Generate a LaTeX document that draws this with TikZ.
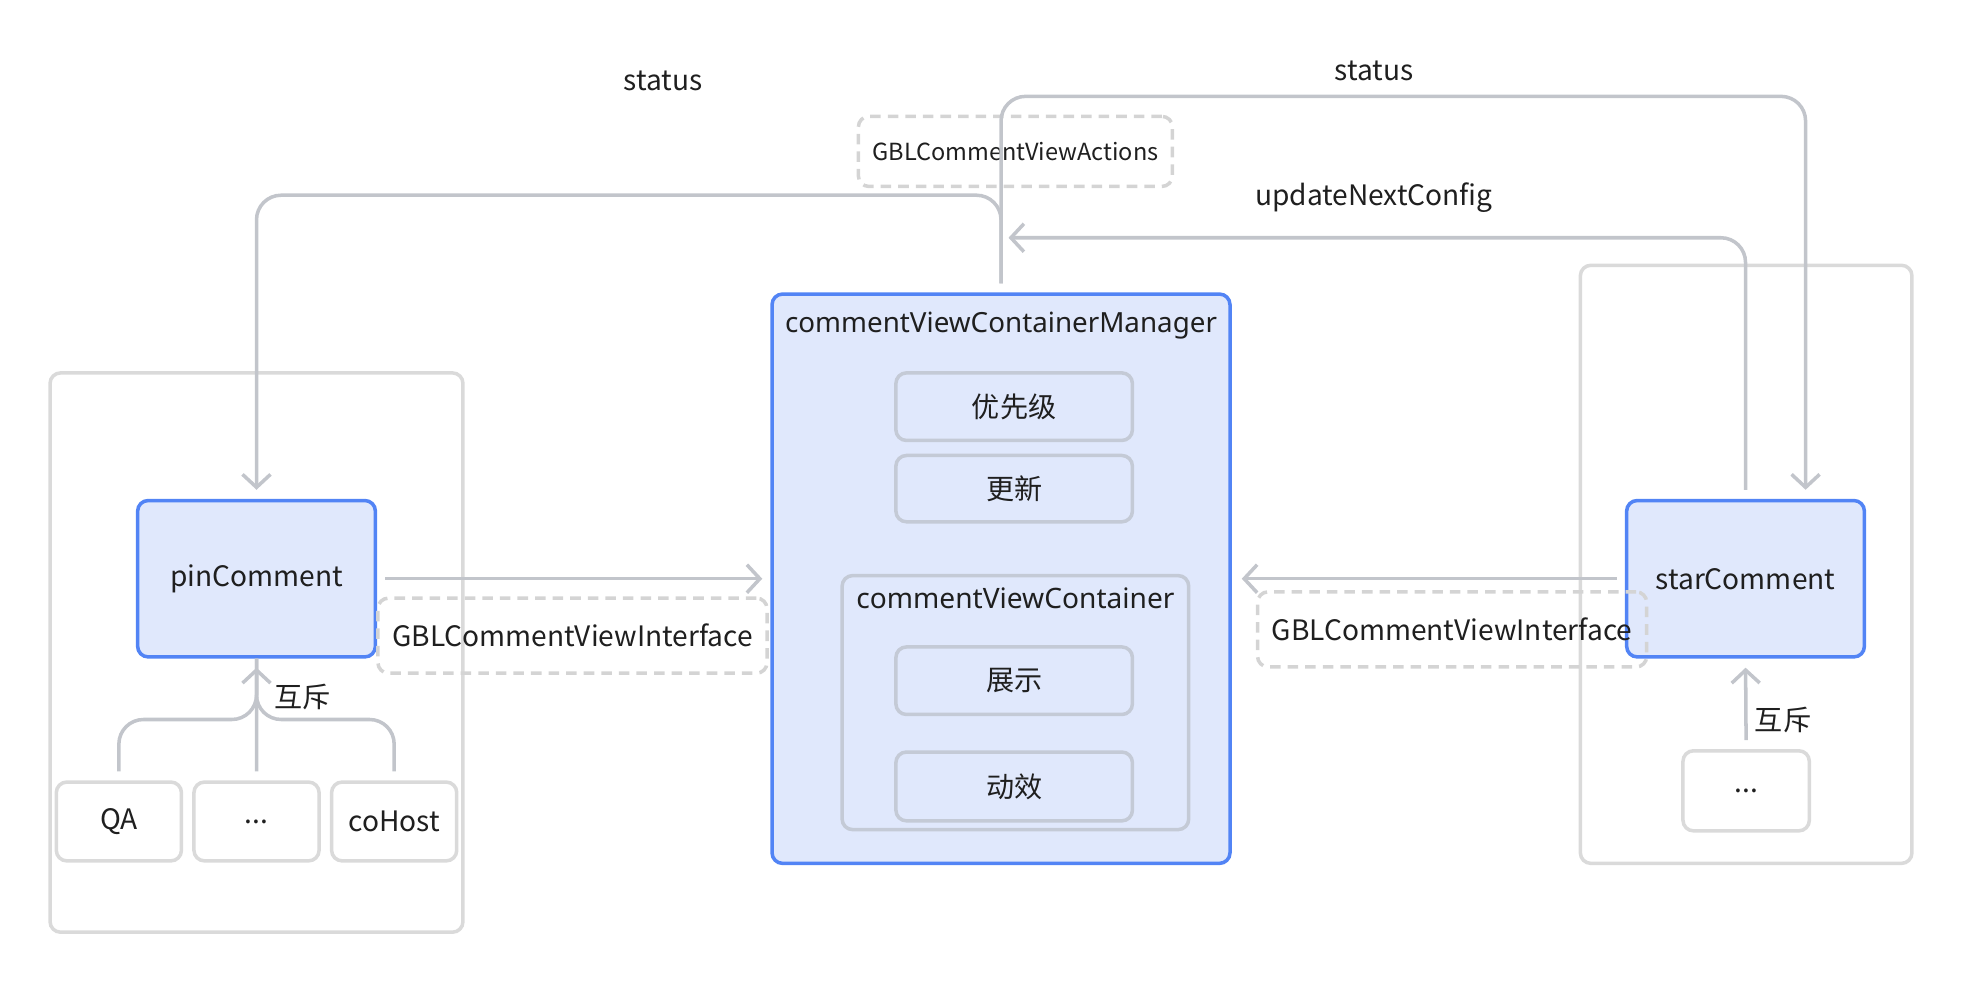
\documentclass[tikz,border=0pt]{standalone}
\usepackage{fontspec}
\setmainfont{Noto Sans CJK SC}
\newfontfamily\widefont{Noto Sans}
\usepackage{xcolor}
\usetikzlibrary{arrows.meta}
\usetikzlibrary{positioning}

\definecolor{blueC}{RGB}{82,132,245}
\definecolor{fillC}{RGB}{224,232,252}
\definecolor{lineC}{RGB}{194,197,203}
\definecolor{grayC}{RGB}{196,202,214}
\definecolor{lightC}{RGB}{218,218,218}
\definecolor{dashC}{RGB}{212,212,212}
\definecolor{txtC}{RGB}{31,31,31}

\tikzset{
  bluebox/.style={draw=blueC, fill=fillC, line width=1pt, rounded corners=3pt},
  innerbox/.style={draw=grayC, fill=fillC, line width=1pt, rounded corners=3pt},
  whitebox/.style={draw=lightC, fill=white, line width=1pt, rounded corners=3pt},
  groupbox/.style={draw=lightC, line width=1pt, rounded corners=3pt},
  dashbox/.style={draw=dashC, line width=1pt, dash pattern=on 3pt off 2pt, rounded corners=3pt},
  conn/.style={draw=lineC, line width=1pt, rounded corners=7pt,
    -{Straight Barb[length=1.3mm, width=2.8mm, line width=1pt]}},
  plainconn/.style={draw=lineC, line width=1pt, rounded corners=7pt}
}

\begin{document}
\begin{tikzpicture}[x=0.012513cm, y=-0.012513cm, font=\fontsize{8}{10}\selectfont, text=txtC]
    \def\pxu{0.012513cm}
    \useasboundingbox (0,0) rectangle (1568,785);
%   groups
    \node[groupbox, minimum width=330*\pxu, minimum height=447*\pxu] (leftgrp) at (205,521.5) {};
    \node[groupbox, minimum width=265*\pxu, minimum height=478*\pxu] (rightgrp) at (1395.5,451) {};
%   manager
    \node[bluebox, minimum width=366*\pxu, minimum height=455*\pxu] (mgr) at (800,462.5) {};
    \node[font=\fontsize{7.9}{10}\selectfont\widefont] (mgrtitle) at (800,260) {commentViewContainerManager};
    \node[innerbox, minimum width=189*\pxu, minimum height=54*\pxu] (prio) at (810.5,325) {优先级};
    \node[innerbox, minimum width=189*\pxu, minimum height=53*\pxu] (renew) at (810.5,390.5) {更新};
    \node[innerbox, fill=none, minimum width=277*\pxu, minimum height=203*\pxu] (cont) at (811.5,561.5) {};
    \node[font=\fontsize{8}{10}\selectfont\widefont] (conttitle) at (811.5,478) {commentViewContainer};
    \node[innerbox, minimum width=189*\pxu, minimum height=54*\pxu] (show) at (810.5,544) {展示};
    \node[innerbox, minimum width=189*\pxu, minimum height=55*\pxu] (anim) at (810.5,628.5) {动效};
%   left side
    \node[bluebox, minimum width=190*\pxu, minimum height=125*\pxu] (pin) at (205,462.5) {pinComment};
    \node[whitebox, minimum width=100*\pxu, minimum height=63*\pxu] (qa) at (95,656.5) {QA};
    \node[whitebox, minimum width=100*\pxu, minimum height=63*\pxu, right=7.2*\pxu of qa] (ldots) {...};
    \node[whitebox, minimum width=100*\pxu, minimum height=63*\pxu, right=7.2*\pxu of ldots] (cohost) {coHost};
%   right side
    \node[bluebox, minimum width=190*\pxu, minimum height=125*\pxu] (star) at (1395,462.5) {starComment};
    \node[whitebox, minimum width=101*\pxu, minimum height=64*\pxu] (rdots) at (1395.5,632) {...};
%   interfaces
    \node[dashbox, minimum width=311*\pxu, minimum height=60*\pxu] (lif) at (457.5,508) {GBLCommentViewInterface};
    \node[dashbox, minimum width=311*\pxu, minimum height=60*\pxu] (rif) at (1160.5,503) {GBLCommentViewInterface};
    \node[dashbox, minimum width=251*\pxu, minimum height=56*\pxu, font=\fontsize{6.7}{9}\selectfont] (acts) at (811.5,121) {GBLCommentViewActions};
%   labels
    \node (lstatus) at (530,65) {status};
    \node (rstatus) at (1098,57) {status};
    \node (updlbl) at (1098,158) {updateNextConfig};
    \node (lmutex) at (242,557) {互斥};
    \node (rmutex) at (1425,575) {互斥};
%   connectors
    \coordinate (lturn) at (205,156);
    \coordinate (rturn) at (1443,77);
    \coordinate (updend) at (806,190);
    \coordinate (ljoin) at (205,575);
    \draw[conn, shorten <=0.09cm, shorten >=0.09cm] (mgr.north) |- (lturn) -- (pin.north);
    \draw[conn, shorten <=0.09cm, shorten >=0.09cm] (mgr.north) |- (rturn) -- (rturn |- star.north);
    \draw[conn, shorten <=0.09cm] (star.north) |- (updend);
    \draw[conn, shorten <=0.08cm, shorten >=0.08cm] (pin.east) -- (mgr.west |- pin.east);
    \draw[conn, shorten <=0.08cm, shorten >=0.1cm] (star.west) -- (mgr.east |- star.west);
    \draw[plainconn, shorten <=0.09cm] (qa.north) |- (ljoin) -- (pin.south);
    \draw[plainconn, shorten <=0.09cm] (cohost.north) |- (ljoin) -- (pin.south);
    \draw[conn, shorten <=0.09cm, shorten >=0.09cm] (ldots.north) -- (pin.south);
    \draw[conn, shorten <=0.09cm, shorten >=0.09cm] (rdots.north) -- (star.south);
\end{tikzpicture}
\end{document}
